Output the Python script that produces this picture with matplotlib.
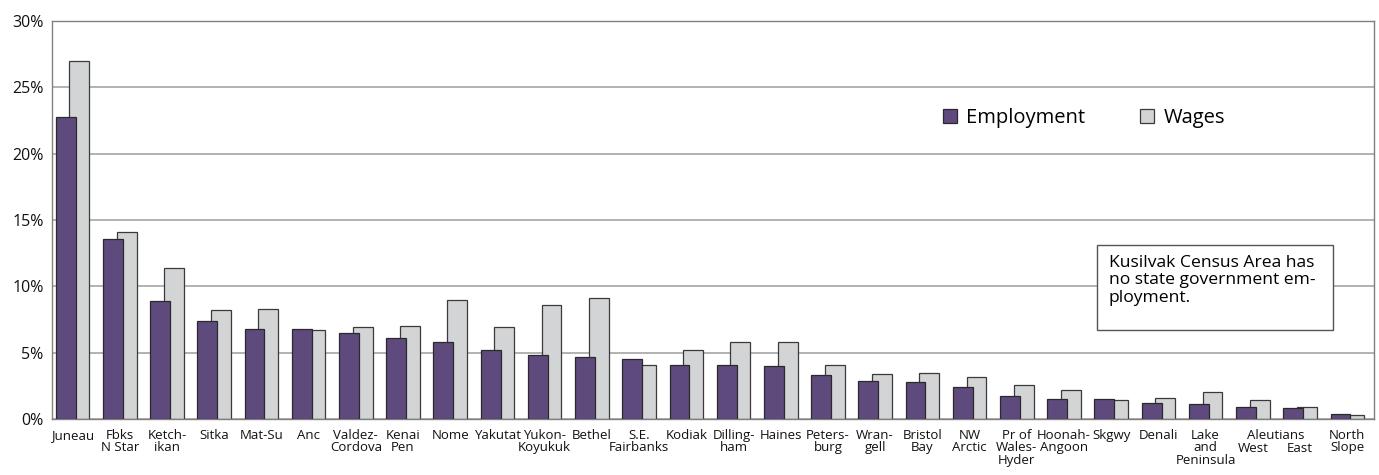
import matplotlib
matplotlib.use("Agg")
import matplotlib.pyplot as plt
from matplotlib.patches import Rectangle
import numpy as np

plt.rcParams['font.family'] = ['Open Sans', 'DejaVu Sans']

labels = ["Juneau", "Fbks\nN Star", "Ketch-\nikan", "Sitka", "Mat-Su", "Anc",
          "Valdez-\nCordova", "Kenai\nPen", "Nome", "Yakutat", "Yukon-\nKoyukuk",
          "Bethel", "S.E.\nFairbanks", "Kodiak", "Dilling-\nham", "Haines",
          "Peters-\nburg", "Wran-\ngell", "Bristol\nBay", "NW\nArctic",
          "Pr of\nWales-\nHyder", "Hoonah-\nAngoon", "Skgwy", "Denali",
          "Lake\nand\nPeninsula", "West", "East", "North\nSlope"]
group_label = "Aleutians"

employment = [22.8, 13.6, 8.9, 7.4, 6.8, 6.8, 6.5, 6.1, 5.8, 5.2, 4.8, 4.7, 4.5,
              4.1, 4.1, 4.0, 3.3, 2.9, 2.8, 2.4, 1.7, 1.5, 1.5, 1.2, 1.1, 0.9,
              0.85, 0.4]
wages = [27.0, 14.1, 11.4, 8.2, 8.3, 6.7, 6.9, 7.0, 9.0, 6.9, 8.6, 9.1, 4.1,
         5.2, 5.8, 5.8, 4.1, 3.4, 3.5, 3.2, 2.6, 2.2, 1.4, 1.6, 2.0, 1.4, 0.9,
         0.3]

emp_color = "#5f4a7e"
wage_color = "#d3d4d6"
grid_color = "#a6a6a6"
lab_size = 9.5

fig = plt.figure(figsize=(13.79, 4.75), dpi=100)
ax = fig.add_axes([52 / 1379, 56 / 475, 1322 / 1379, 398 / 475])

x = np.arange(len(labels))
w = 0.42
ax.bar(x + 0.08, wages, w, color=wage_color, edgecolor="#3a3a3a", linewidth=0.9,
       label="Wages", zorder=2)
ax.bar(x - 0.21, employment, w, color=emp_color, edgecolor="#2a2a2a", linewidth=0.9,
       label="Employment", zorder=3)

ax.set_xlim(-0.5, len(labels) - 0.5)
ax.set_ylim(0, 30)
ax.set_yticks(np.arange(0, 31, 5))
ax.set_yticklabels([f"{v}%" for v in range(0, 31, 5)], fontsize=11.5)
ax.set_xticks(x - 0.065)
ax.set_xticklabels(labels, fontsize=lab_size, linespacing=0.95)
ax.tick_params(axis="both", length=0, colors="#111111")
ax.tick_params(axis="x", pad=7)
ax.tick_params(axis="y", pad=6)

# the two Aleutians labels sit one line lower, under a shared group name
lab_h = 9.8  # points
for i in (25, 26):
    t = ax.get_xticklabels()[i]
    t.set_transform(t.get_transform() + matplotlib.transforms.ScaledTranslation(
        0, -lab_h / 72, fig.dpi_scale_trans))

ax.yaxis.grid(True, color=grid_color, linewidth=1.2, zorder=0)
ax.set_axisbelow(True)
for s in ax.spines.values():
    s.set_color("#808080")
    s.set_linewidth(1.0)

ax.annotate(group_label, xy=(25.42, 0), xycoords=("data", "axes fraction"),
            xytext=(0, -7), textcoords="offset points", ha="center", va="top",
            fontsize=lab_size, color="#111111")

handles, lbls = ax.get_legend_handles_labels()
ax.legend(handles[::-1], lbls[::-1], loc="center left", bbox_to_anchor=(0.666, 0.756),
          ncol=2, frameon=False, fontsize=14.5, handlelength=0.7, handleheight=0.7,
          handletextpad=0.45, columnspacing=2.75, borderpad=0)

ax.add_patch(Rectangle((0.7905, 0.2236), 0.1785, 0.2136, transform=ax.transAxes,
                       facecolor="white", edgecolor="#555555", linewidth=1.0, zorder=5))
ax.text(0.7995, 0.412, "Kusilvak Census Area has\nno state government em-\nployment.",
        transform=ax.transAxes, ha="left", va="top", fontsize=12.6, linespacing=1.12,
        zorder=6)

fig.savefig("out.png", dpi=100)
